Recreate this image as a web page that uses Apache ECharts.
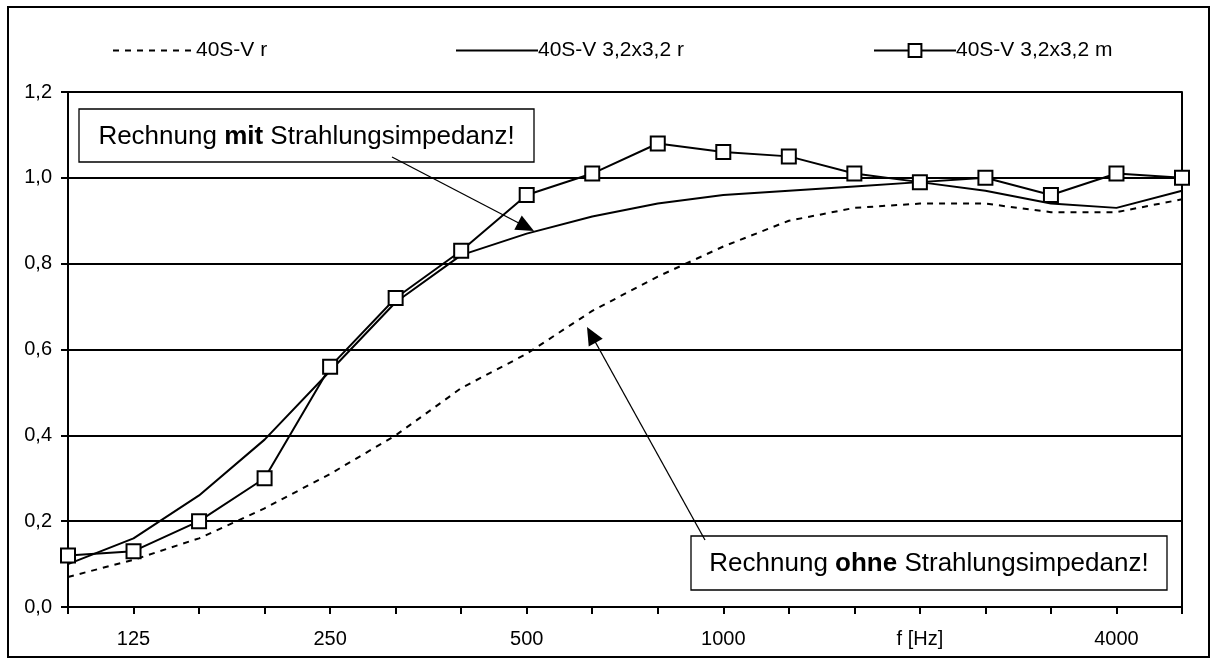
<!DOCTYPE html>
<html>
<head>
<meta charset="utf-8">
<script src="https://cdn.jsdelivr.net/npm/echarts@6/dist/echarts.min.js"></script>
<style>
html,body{margin:0;padding:0;background:#fff;}
#chart{width:1218px;height:665px;}
</style>
</head>
<body>
<div id="chart"></div>
<script>
// ---- data ----
const categories = ['100','125','160','200','250','315','400','500','630','800','1000','1250','1600','2000','2500','3150','4000','5000'];
const tickLabels = ['', '125', '', '', '250', '', '', '500', '', '', '1000', '', '', 'f [Hz]', '', '', '4000', ''];
const yTicks = [0, 0.2, 0.4, 0.6, 0.8, 1.0, 1.2];
const seriesNames = ['40S-V r', '40S-V 3,2x3,2 r', '40S-V 3,2x3,2 m'];
const valuesR    = [0.07,0.11,0.16,0.23,0.31,0.40,0.51,0.59,0.69,0.77,0.84,0.90,0.93,0.94,0.94,0.92,0.92,0.95];
const values32r  = [0.10,0.16,0.26,0.39,0.55,0.71,0.82,0.87,0.91,0.94,0.96,0.97,0.98,0.99,0.97,0.94,0.93,0.97];
const values32m  = [0.12,0.13,0.20,0.30,0.56,0.72,0.83,0.96,1.01,1.08,1.06,1.05,1.01,0.99,1.00,0.96,1.01,1.00];
const noteWith = ['Rechnung ', 'mit', ' Strahlungsimpedanz!'];
const noteWithout = ['Rechnung ', 'ohne', ' Strahlungsimpedanz!'];

const FONT = '"Liberation Sans", Arial, sans-serif';
const chart = echarts.init(document.getElementById('chart'), null, {renderer: 'canvas'});

function arrow(sx, sy, tx, ty) {
  const dx = tx - sx, dy = ty - sy, len = Math.hypot(dx, dy);
  const ux = dx / len, uy = dy / len, nx = -uy, ny = ux;
  const L = 18, W = 8;
  const bx = tx - L * ux, by = ty - L * uy;
  return [
    {type: 'line', shape: {x1: sx, y1: sy, x2: bx + 4 * ux, y2: by + 4 * uy}, style: {stroke: '#000', lineWidth: 1.3}, z: 50},
    {type: 'polygon', shape: {points: [[tx, ty], [bx + W * nx, by + W * ny], [bx - W * nx, by - W * ny]]}, style: {fill: '#000'}, z: 50}
  ];
}
function note(parts, x, y, w, h) {
  return [
    {type: 'rect', shape: {x: x, y: y, width: w, height: h}, style: {fill: '#fff', stroke: '#000', lineWidth: 1.3}, z: 40},
    {type: 'text', x: x + w / 2, y: y + h / 2 + 1, z: 41,
     style: {text: '{n|' + parts[0] + '}{b|' + parts[1] + '}{n|' + parts[2] + '}',
             align: 'center', verticalAlign: 'middle',
             rich: {n: {fontSize: 26, fontFamily: FONT, fill: '#000'},
                    b: {fontSize: 26, fontFamily: FONT, fontWeight: 'bold', fill: '#000'}}}}
  ];
}

const legendCommon = {
  top: 40, itemGap: 0, itemHeight: 16, padding: 0,
  textStyle: {fontSize: 21, fontFamily: FONT, color: '#000', padding: [0, 0, 0, -5]},
  selectedMode: false
};
const hiddenDot = {opacity: 0, color: 'transparent', borderWidth: 0};

chart.setOption({
  animation: false,
  backgroundColor: '#fff',
  textStyle: {fontFamily: FONT},
  legend: [
    Object.assign({}, legendCommon, {data: [{name: seriesNames[0], itemStyle: hiddenDot}], left: 112, itemWidth: 83}),
    Object.assign({}, legendCommon, {data: [{name: seriesNames[1], itemStyle: hiddenDot}], left: 455, itemWidth: 82}),
    Object.assign({}, legendCommon, {data: [seriesNames[2]], left: 873, itemWidth: 82})
  ],
  grid: {left: 68, right: 36, top: 92, bottom: 58, containLabel: false},
  xAxis: {
    type: 'category', data: categories, boundaryGap: false,
    axisLine: {lineStyle: {color: '#000', width: 2}},
    axisTick: {show: true, interval: 0, length: 7, lineStyle: {color: '#000', width: 2}},
    axisLabel: {interval: 0, formatter: (v, i) => tickLabels[i], fontSize: 20, color: '#000', margin: 22, fontFamily: FONT},
    splitLine: {show: false}
  },
  yAxis: [{
    type: 'value', min: yTicks[0], max: yTicks[yTicks.length - 1], interval: yTicks[1] - yTicks[0],
    axisLine: {show: true, lineStyle: {color: '#000', width: 2}},
    axisTick: {show: true, length: 7, lineStyle: {color: '#000', width: 2}},
    axisLabel: {formatter: v => v.toFixed(1).replace('.', ','), fontSize: 20, color: '#000', margin: 16, fontFamily: FONT},
    splitLine: {show: true, lineStyle: {color: '#000', width: 2}}
  }, {
    type: 'value', position: 'right', min: yTicks[0], max: yTicks[yTicks.length - 1], interval: yTicks[1] - yTicks[0],
    axisLine: {show: true, lineStyle: {color: '#000', width: 2}},
    axisTick: {show: false}, axisLabel: {show: false}, splitLine: {show: false}
  }],
  series: [
    {name: seriesNames[0], type: 'line', data: valuesR, symbol: 'none', z: 3,
     lineStyle: {color: '#000', width: 2, type: [6, 6]}, itemStyle: {color: '#000'}},
    {name: seriesNames[1], type: 'line', data: values32r, symbol: 'none', z: 4,
     lineStyle: {color: '#000', width: 2}, itemStyle: {color: '#000'}},
    {name: seriesNames[2], type: 'line', data: values32m, symbol: 'rect', symbolSize: 14, z: 5,
     lineStyle: {color: '#000', width: 2},
     itemStyle: {color: '#fff', borderColor: '#000', borderWidth: 2}}
  ],
  graphic: [
    {type: 'rect', shape: {x: 8, y: 7, width: 1201, height: 650}, style: {fill: null, stroke: '#000', lineWidth: 2}, z: 1, silent: true}
  ].concat(note(noteWith, 79, 109, 455, 53))
   .concat(note(noteWithout, 691, 536, 476, 54))
   .concat(arrow(392, 157, 534, 231))
   .concat(arrow(705, 540, 587, 327))
});
</script>
</body>
</html>
